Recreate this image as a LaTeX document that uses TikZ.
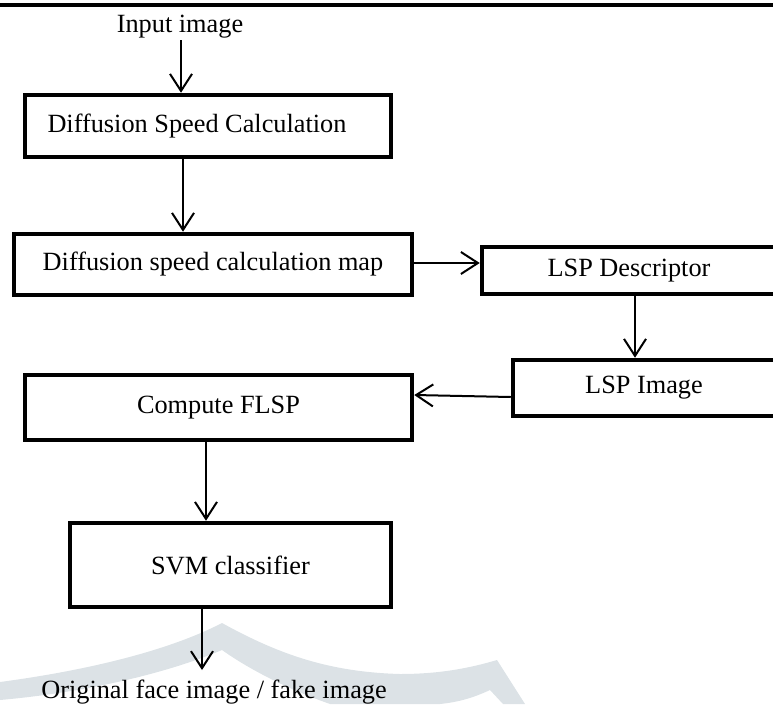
\documentclass[tikz,border=0pt]{standalone}
\usepackage{fontspec}
\setmainfont{Liberation Serif}
\usetikzlibrary{arrows.meta}
\definecolor{markgrey}{RGB}{220,226,230}
\tikzset{
  box/.style={draw, line width=4.5pt, inner sep=0pt, align=center,
    font=\fontsize{26.3}{30}\selectfont},
  label/.style={inner sep=0pt, font=\fontsize{26.3}{30}\selectfont},
  flow/.style={line width=2pt,
    -{Straight Barb[length=17pt,width=22pt,line width=2pt]}}
}
\begin{document}
\begin{tikzpicture}[x=1pt,y=-1pt]
\useasboundingbox (0,0) rectangle (773,704);

% faint background emblem
\fill[markgrey]
  (0,682) .. controls (90,670) and (170,650) .. (222,623)
  .. controls (280,655) and (330,672) .. (400,674)
  .. controls (440,674) and (470,668) .. (497,660)
  -- (525,704) -- (503,704) -- (490,690)
  .. controls (475,697) and (460,702) .. (440,704)
  -- (330,704)
  .. controls (290,690) and (250,670) .. (222,650)
  .. controls (170,672) and (90,692) .. (0,700) -- cycle;

% rule across the top
\draw[line width=4pt] (0,5) -- (773,5);

% blocks
\node[box, minimum width=366pt, minimum height=62pt] (d1) at (208,126)
  {Diffusion Speed Calculation\hspace*{22pt}};
\node[box, minimum width=398pt, minimum height=61pt] (d2) at (213,264.5)
  {Diffusion speed calculation map};
\node[box, minimum width=294pt, minimum height=47pt] (lspd) at (629,270.5)
  {LSP Descriptor};
\node[box, minimum width=262pt, minimum height=56pt] (lspi) at (644,388)
  {LSP Image};
\node[box, minimum width=387pt, minimum height=65pt] (flsp) at (218.5,407.5)
  {Compute FLSP};
\node[box, minimum width=321pt, minimum height=84pt] (svm) at (230.5,565)
  {SVM classifier};

% input and output captions
\node[label, anchor=base] (inp) at (180,32) {Input image};
\node[label, anchor=base] (out) at (214,698) {Original face image / fake image};
\coordinate (ia) at (181,40);
\coordinate (oe) at (202,670);

% connectors
\draw[flow] (ia) -- (ia |- d1.north);
\draw[flow] ([xshift=-25pt]d1.south) -- ([xshift=-25pt]d1.south |- d2.north);
\draw[flow] ([yshift=1.5pt]d2.east) -- ([yshift=1.5pt]d2.east -| lspd.west);
\draw[flow] ([xshift=6pt]lspd.south) -- ([xshift=6pt]lspd.south |- lspi.north);
\draw[flow] ([yshift=-9pt]lspi.west) -- ([yshift=12.5pt]flsp.east);
\draw[flow] ([xshift=-12.5pt]flsp.south) -- ([xshift=-12.5pt]flsp.south |- svm.north);
\draw[flow] (svm.south -| oe) -- (oe);
\end{tikzpicture}
\end{document}
